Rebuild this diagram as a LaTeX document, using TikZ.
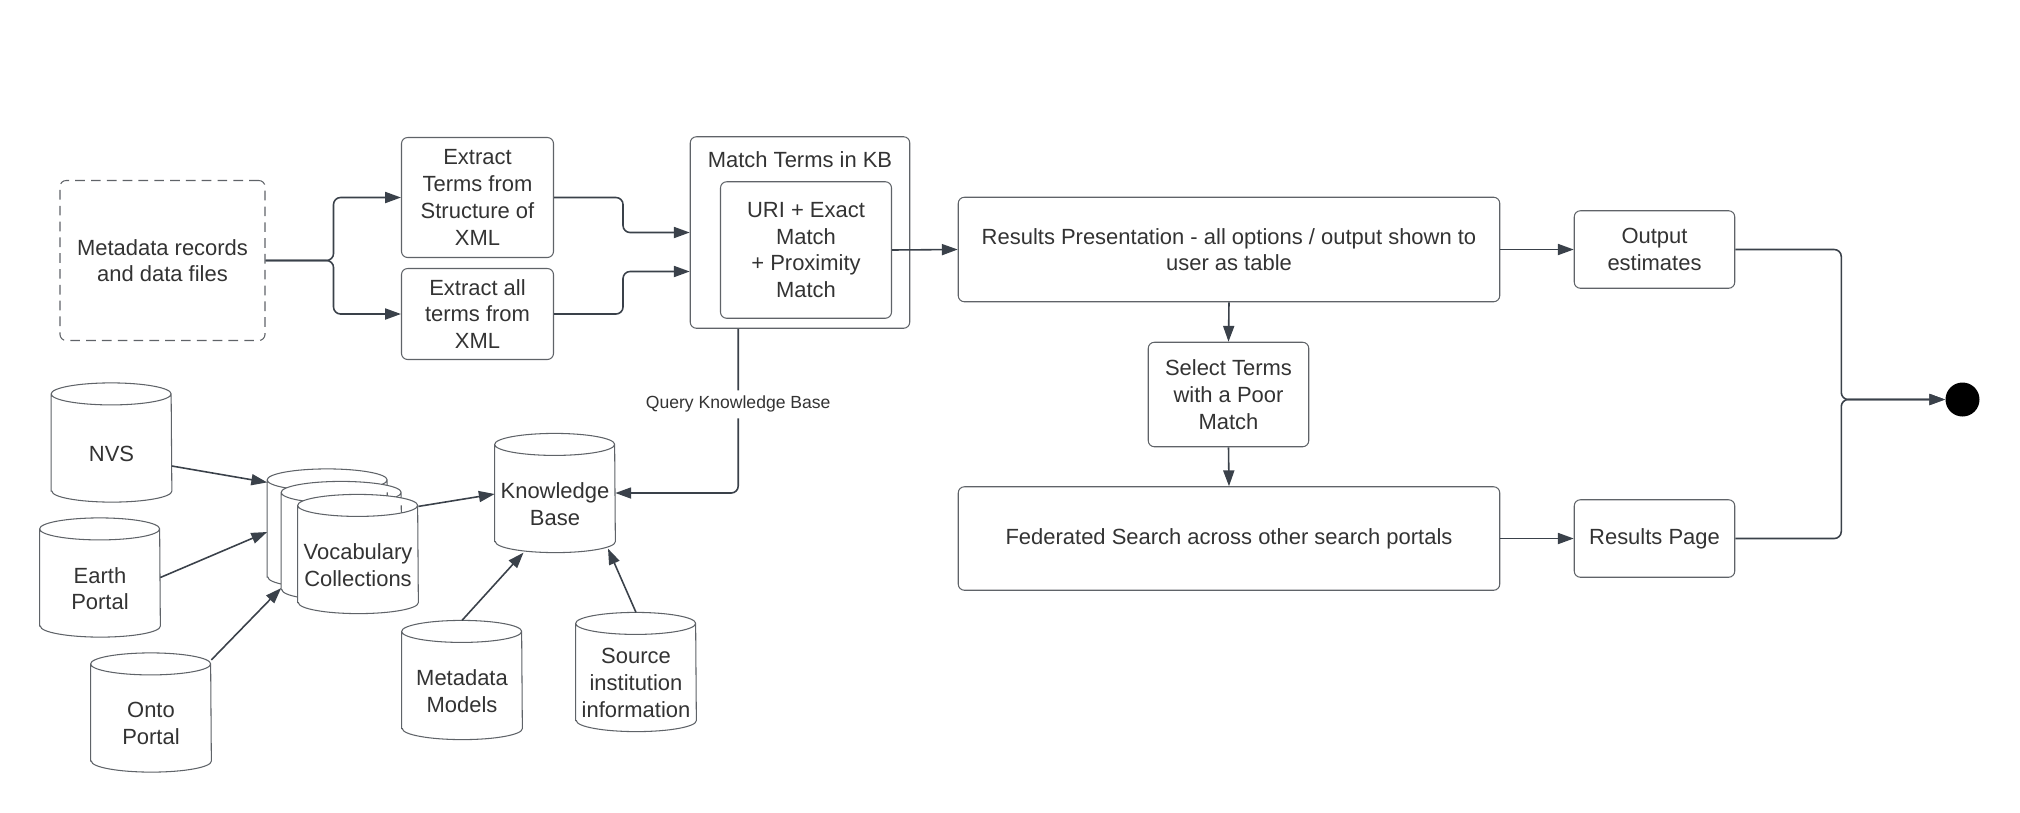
\documentclass[tikz,border=0pt]{standalone}
\usepackage{fontspec}
\setmainfont{Liberation Sans}
\usetikzlibrary{arrows.meta,backgrounds}
\definecolor{linec}{HTML}{3A414A}
\definecolor{boxline}{HTML}{5F6368}
\definecolor{txt}{HTML}{333333}
\tikzset{
  box/.style={draw=boxline,line width=0.6pt,rounded corners=3.5pt,align=center,text=txt,inner sep=0pt},
  db/.style={align=center,text=txt,inner sep=0pt,minimum width=2.4cm,minimum height=1.93cm},
  link/.style={draw=linec,line width=0.9pt,->,rounded corners=4pt}
}
\begin{document}
\begin{tikzpicture}[font=\fontsize{12.5}{15.2}\selectfont,>={Triangle[length=9pt,width=6.3pt]}]
\useasboundingbox (0,0) rectangle (40.4,-16.24);
% top row
\node[box,dash pattern=on 5.5pt off 3.5pt,minimum width=4.1cm,minimum height=3.2cm] (meta) at (3.25,-5.21) {Metadata records\\and data files};
\node[box,minimum width=3.04cm,minimum height=2.4cm] (exs) at (9.55,-3.95) {Extract\\Terms from\\Structure of\\XML};
\node[box,minimum width=3.04cm,minimum height=1.82cm] (exa) at (9.55,-6.28) {Extract all\\terms from\\XML};
\node[box,minimum width=4.39cm,minimum height=3.83cm] (mt) at (16.0,-4.65) {};
\node[text=txt] (mttitle) at (16.0,-3.2) {Match Terms in KB};
\node[box,minimum width=3.42cm,minimum height=2.73cm] (uri) at (16.12,-5.0) {URI + Exact\\Match\\+ Proximity\\Match};
\node[box,minimum width=10.83cm,minimum height=2.09cm] (res) at (24.58,-4.99) {Results Presentation - all options / output shown to\\user as table};
\node[box,minimum width=3.21cm,minimum height=1.55cm] (out) at (33.09,-4.99) {Output\\estimates};
\node[box,minimum width=3.21cm,minimum height=2.09cm] (sel) at (24.57,-7.89) {Select Terms\\with a Poor\\Match};
\node[box,minimum width=10.83cm,minimum height=2.07cm] (fed) at (24.58,-10.77) {Federated Search across other search portals};
\node[box,minimum width=3.21cm,minimum height=1.55cm] (rpg) at (33.09,-10.77) {Results Page};
\node[circle,fill=black,minimum size=0.68cm,inner sep=0pt] (endc) at (39.25,-7.99) {};
% vocabulary sources (cylinder bodies)
\node[db] (nvs) at (2.23,-9.07) {NVS};
\node[db] (earth) at (2.0,-11.77) {Earth\\Portal};
\node[db] (onto) at (3.02,-14.47) {Onto\\Portal};
\node[db] (vb) at (6.55,-10.79) {};
\node[db] (vm) at (6.83,-11.04) {};
\node[db] (vf) at (7.16,-11.30) {Vocabulary\\Collections};
\node[db] (kb) at (11.1,-10.08) {Knowledge\\Base};
\node[db] (mm) at (9.24,-13.82) {Metadata\\Models};
\node[db] (src) at (12.72,-13.66) {Source\\institution\\information};
\begin{scope}[on background layer]
\foreach \n in {nvs,earth,onto,vb,vm,vf,kb,mm,src}
  \draw[draw=boxline,line width=0.6pt,fill=white]
    ([yshift=2.2mm]\n.south west) -- ([yshift=2.2mm]\n.north west)
    arc[start angle=180,end angle=0,x radius=1.2cm,y radius=2.2mm]
    -- ([yshift=2.2mm]\n.south east)
    arc[start angle=0,end angle=-180,x radius=1.2cm,y radius=2.2mm] -- cycle
    ([yshift=2.2mm]\n.north west) arc[start angle=180,end angle=360,x radius=1.2cm,y radius=2.2mm];
\end{scope}
\coordinate (qk) at ([xshift=0.97cm]mt.south west);
% connectors
\draw[link] (meta.east) -- ++(1.36,0) |- (exs.west);
\draw[link] (meta.east) -- ++(1.36,0) |- (exa.west);
\draw[link] (exs.east) -- ++(1.38,0) |- (mt.west);
\draw[link] (exa.east) -- ++(1.38,0) |- ([yshift=-0.78cm]mt.west);
\draw[link] (uri.east) -- (res.west);
\draw[link] (res.east) -- (out.west);
\draw[link] (res.south) -- (sel.north);
\draw[link] (sel.south) -- (fed.north);
\draw[link] (fed.east) -- (rpg.west);
\draw[link] (out.east) -- ++(2.12,0) |- (endc.west);
\draw[link] (rpg.east) -- ++(2.12,0) |- (endc.west);
\draw[link] (qk) |- node[pos=0.23,fill=white,text=txt,font=\fontsize{10}{12}\selectfont]{Query Knowledge Base} ([yshift=2.2mm]kb.east);
\draw[link] ([yshift=-0.25cm]nvs.east) -- ([yshift=0.17cm]vb.north west);
\draw[link] ([yshift=2.2mm]earth.east) -- ([yshift=0.15cm]vb.west);
\draw[link] ([yshift=0.3cm]onto.north east) -- ([yshift=0.25cm]vm.south west);
\draw[link] ([yshift=0.2cm]vf.north east) -- ([yshift=0.2cm]kb.west);
\draw[link] ([yshift=4.4mm]mm.north) -- ([xshift=-0.63cm]kb.south);
\draw[link] ([yshift=4.4mm]src.north) -- ([xshift=1.06cm,yshift=0.08cm]kb.south);
\end{tikzpicture}
\end{document}
